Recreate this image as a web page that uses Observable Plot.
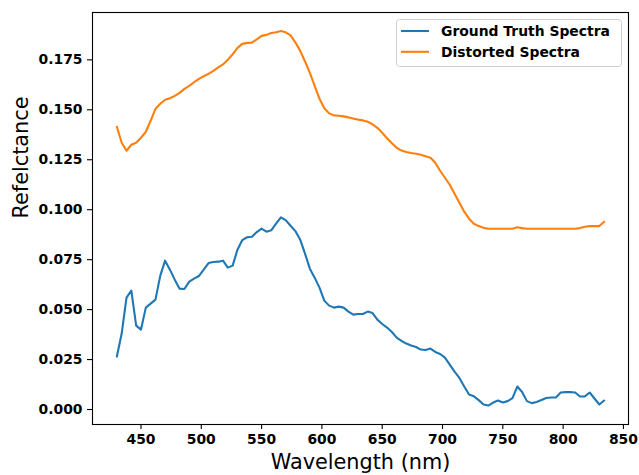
<!DOCTYPE html>
<html>
<head>
<meta charset="utf-8">
<script src="https://cdn.jsdelivr.net/npm/d3@7"></script>
<script src="https://cdn.jsdelivr.net/npm/@observablehq/plot@0.6"></script>
<style>
  html, body { margin: 0; padding: 0; background: #fff; }
  svg { font-family: "DejaVu Sans", sans-serif; }
</style>
</head>
<body>
<div id="chart"></div>
<script>
const wavelengths = [430, 434, 438, 442, 446, 450, 454, 458, 462, 466, 470, 474, 478, 482, 486, 490, 494, 498, 502, 506,
  510, 514, 518, 522, 526, 530, 534, 538, 542, 546, 550, 554, 558, 562, 566, 570, 574, 578, 582, 586,
  590, 594, 598, 602, 606, 610, 614, 618, 622, 626, 630, 634, 638, 642, 646, 650, 654, 658, 662, 666,
  670, 674, 678, 682, 686, 690, 694, 698, 702, 706, 710, 714, 718, 722, 726, 730, 734, 738, 742, 746,
  750, 754, 758, 762, 766, 770, 774, 778, 782, 786, 790, 794, 798, 802, 806, 810, 814, 818, 822, 826,
  830, 834];

const groundTruth = [0.0265, 0.038, 0.056, 0.0595, 0.042, 0.040, 0.051, 0.053, 0.055, 0.067, 0.0745, 0.070, 0.065, 0.0605, 0.0603, 0.064, 0.0655, 0.0668, 0.070, 0.0733,
  0.0738, 0.0740, 0.0745, 0.071, 0.072, 0.080, 0.0848, 0.0862, 0.0865, 0.0888, 0.0905, 0.089, 0.0897, 0.093, 0.0962, 0.0948, 0.092, 0.0893, 0.085, 0.078,
  0.0705, 0.066, 0.061, 0.0545, 0.052, 0.051, 0.0515, 0.051, 0.049, 0.0475, 0.0478, 0.0478, 0.049, 0.0483, 0.045, 0.0428, 0.041, 0.0388, 0.036, 0.0343,
  0.033, 0.032, 0.0313, 0.030, 0.0298, 0.0305, 0.0288, 0.0278, 0.026, 0.0225, 0.019, 0.0158, 0.0115, 0.0075, 0.0066, 0.0047, 0.0025, 0.002, 0.0035, 0.0045,
  0.0035, 0.0042, 0.0057, 0.0115, 0.0088, 0.0042, 0.0032, 0.0038, 0.0048, 0.0058, 0.006, 0.006, 0.0085, 0.0087, 0.0087, 0.0085, 0.0065, 0.0066, 0.0085, 0.0055,
  0.0025, 0.0045];

const distorted = [0.1415, 0.1335, 0.1295, 0.1325, 0.1335, 0.136, 0.139, 0.1445, 0.1505, 0.153, 0.155, 0.1558, 0.157, 0.1585, 0.1605, 0.162, 0.1638, 0.1655, 0.1668, 0.168,
  0.1695, 0.1712, 0.1727, 0.175, 0.1778, 0.181, 0.183, 0.1835, 0.1836, 0.1853, 0.187, 0.1875, 0.1884, 0.1888, 0.1894, 0.1888, 0.1872, 0.1838, 0.1795, 0.1742,
  0.1685, 0.162, 0.1555, 0.1508, 0.1482, 0.1472, 0.147, 0.1467, 0.1462, 0.1456, 0.1451, 0.1447, 0.144, 0.1427, 0.141, 0.1385, 0.1358, 0.1333, 0.131, 0.1296,
  0.1289, 0.1284, 0.128, 0.1275, 0.1268, 0.126, 0.1235, 0.1195, 0.116, 0.1125, 0.108, 0.1035, 0.099, 0.0955, 0.093, 0.0918, 0.091, 0.0905, 0.0905, 0.0905,
  0.0905, 0.0905, 0.0905, 0.0912, 0.0908, 0.0905, 0.0905, 0.0905, 0.0905, 0.0905, 0.0905, 0.0905, 0.0905, 0.0905, 0.0905, 0.0905, 0.0908, 0.0915, 0.0918, 0.0918,
  0.0918, 0.094];

const seriesNames = ["Ground Truth Spectra", "Distorted Spectra"];
const seriesColors = ["#1f77b4", "#ff7f0e"];
const xTicks = [450, 500, 550, 600, 650, 700, 750, 800, 850];
const yTicks = [0, 0.025, 0.05, 0.075, 0.1, 0.125, 0.15, 0.175];
const xLabel = "Wavelength (nm)";
const yLabel = "Refelctance";

const rows = [];
wavelengths.forEach((w, i) => {
  rows.push({w, v: groundTruth[i], s: seriesNames[0]});
  rows.push({w, v: distorted[i], s: seriesNames[1]});
});

const W = 639, H = 475;
const chart = Plot.plot({
  width: W,
  height: H,
  marginLeft: 92,
  marginRight: 11,
  marginTop: 12,
  marginBottom: 51,
  style: {fontFamily: "DejaVu Sans, sans-serif", background: "#fff", color: "#000"},
  x: {domain: [409.8, 854.2]},
  y: {domain: [-0.0075, 0.1987]},
  color: {domain: seriesNames, range: seriesColors},
  marks: [
    Plot.line(rows, {x: "w", y: "v", z: "s", stroke: "s", strokeWidth: 2.1}),
    Plot.frame({stroke: "#000", strokeWidth: 1.1}),
    Plot.axisX({ticks: xTicks, tickSize: 5, tickPadding: 5, fontSize: 13.9, fontWeight: "bold", strokeWidth: 1.1, label: null}),
    Plot.axisY({ticks: yTicks, tickSize: 5, tickPadding: 5, fontSize: 13.9, fontWeight: "bold", strokeWidth: 1.1, tickFormat: d3.format(".3f"), label: null}),
    Plot.text([xLabel], {frameAnchor: "bottom", dy: 44, fontSize: 20.8, fill: "#000"}),
    Plot.text([yLabel], {frameAnchor: "left", dx: -71, rotate: -90, fontSize: 20.8, fill: "#000"})
  ]
});

// Legend inside the upper-right corner
const svg = d3.select(chart);
const lg = svg.append("g").attr("font-family", "DejaVu Sans, sans-serif").attr("text-anchor", "start");
lg.append("rect").attr("x", 396.5).attr("y", 19.5).attr("width", 225).attr("height", 47)
  .attr("rx", 3).attr("fill", "#fff").attr("fill-opacity", 0.8).attr("stroke", "#d0d0d0");
seriesNames.forEach((name, i) => {
  const y = 31 + i * 20.8;
  lg.append("line").attr("x1", 401).attr("x2", 429).attr("y1", y).attr("y2", y)
    .attr("stroke", seriesColors[i]).attr("stroke-width", 2.1);
  lg.append("text").attr("x", 441).attr("y", y).attr("dy", "0.35em").attr("text-anchor", "start")
    .attr("font-size", 13.9).attr("font-weight", "bold").attr("fill", "#000").text(name);
});

document.getElementById("chart").appendChild(chart);
</script>
</body>
</html>
